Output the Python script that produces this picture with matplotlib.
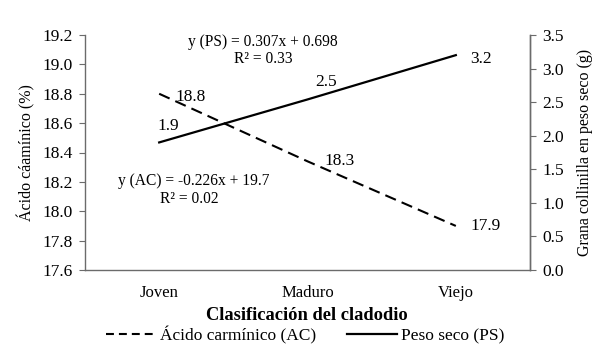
import matplotlib
matplotlib.use("Agg")
import matplotlib.pyplot as plt
from matplotlib.lines import Line2D

plt.rcParams['font.family'] = ['Liberation Serif', 'DejaVu Serif']

categories = ['Joven', 'Maduro', 'Viejo']
acido = [18.8, 18.34, 17.9]
peso = [1.9, 2.54, 3.2]
eq_ps = ['y (PS) = 0.307x + 0.698', 'R² = 0.33']
eq_ac = ['y (AC) = -0.226x + 19.7', 'R² = 0.02']
left_ticks = [17.6, 17.8, 18.0, 18.2, 18.4, 18.6, 18.8, 19.0, 19.2]
right_ticks = [0.0, 0.5, 1.0, 1.5, 2.0, 2.5, 3.0, 3.5]

fig = plt.figure(figsize=(6.06, 3.64), dpi=100)
ax = fig.add_axes([85/606, 1-270/364, 445/606, 235/364])
ax2 = ax.twinx()

x = [0.5, 1.5, 2.5]
ax.plot(x, acido, color='black', lw=1.5, dashes=(5.5, 3))
ax2.plot(x, peso, color='black', lw=1.6)

ax.set_xlim(0, 3)
ax.set_ylim(17.6, 19.2)
ax2.set_ylim(0, 3.5)
ax.set_yticks(left_ticks)
ax.set_yticklabels(['%.1f' % v for v in left_ticks])
ax2.set_yticks(right_ticks)
ax2.set_yticklabels(['%.1f' % v for v in right_ticks])
ax.set_xticks(x)
ax.set_xticklabels(categories)

for a in (ax, ax2):
    a.spines['top'].set_visible(False)
    for s in a.spines.values():
        s.set_color('#6b6b6b')
        s.set_linewidth(1.0)
    a.tick_params(axis='y', labelsize=12.5, length=4, color='#6b6b6b', pad=5)
ax.tick_params(axis='x', length=0, labelsize=12, pad=11)
ax2.spines['left'].set_visible(False)
ax2.spines['bottom'].set_visible(False)

ax.set_ylabel('Ácido cáamínico (%)', fontsize=11.5, labelpad=5)
ax2.set_ylabel('Grana collinilla en peso seco (g)', fontsize=11.5, labelpad=9)

# data labels
fs = 12.5
ax.text(x[0] + 0.107, acido[0] - 0.02, '%.1f' % acido[0], fontsize=fs, va='center', ha='left')
ax.text(x[1] + 0.112, acido[1], '%.1f' % acido[1], fontsize=fs, va='center', ha='left')
ax.text(x[2] + 0.096, acido[2], '%.1f' % acido[2], fontsize=fs, va='center', ha='left')
ax2.text(x[0] - 0.014, peso[0] + 0.245, '%.1f' % peso[0], fontsize=fs, va='center', ha='left')
ax2.text(x[1] + 0.051, peso[1] + 0.26, '%.1f' % peso[1], fontsize=fs, va='center', ha='left')
ax2.text(x[2] + 0.096, peso[2] - 0.057, '%.1f' % peso[2], fontsize=fs, va='center', ha='left')

# regression equations
ax.text(1.2, 19.153, eq_ps[0], fontsize=11.2, ha='center', va='center')
ax.text(1.2, 19.037, eq_ps[1], fontsize=11.2, ha='center', va='center')
ax.text(0.735, 18.203, eq_ac[0], fontsize=11.2, ha='center', va='center')
ax.text(0.70, 18.081, eq_ac[1], fontsize=11.2, ha='center', va='center')

fig.text(307/606, 1-316/364, 'Clasificación del cladodio', fontsize=13.3,
         fontweight='bold', ha='center', va='center')

handles = [Line2D([], [], color='black', lw=1.5, dashes=(3.8, 2.4)),
           Line2D([], [], color='black', lw=1.6)]
fig.legend(handles, ['Ácido carmínico (AC)', 'Peso seco (PS)'],
           loc='center', bbox_to_anchor=(305/606, 1-335/364), ncol=2,
           frameon=False, fontsize=12.5, handlelength=2.9, handletextpad=0.2,
           columnspacing=1.8, borderaxespad=0, borderpad=0)

fig.savefig('out.png', dpi=100)
